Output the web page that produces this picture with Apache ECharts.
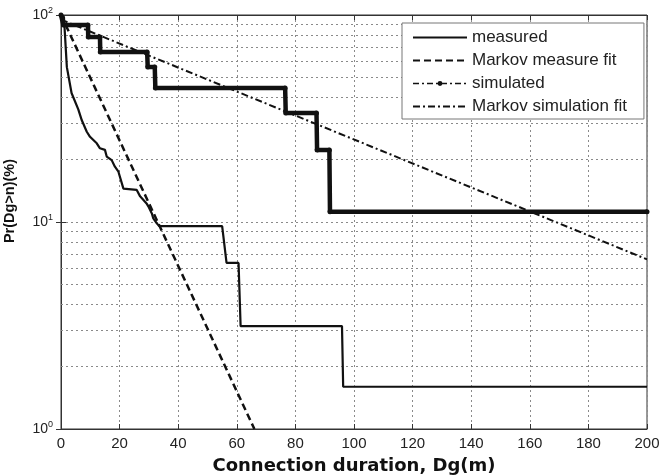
<!DOCTYPE html>
<html>
<head>
<meta charset="utf-8">
<script src="https://cdn.jsdelivr.net/npm/echarts@6/dist/echarts.min.js"></script>
<style>
  html, body { margin: 0; padding: 0; background: #fff; }
  #chart { width: 659px; height: 475px; }
</style>
</head>
<body>
<div id="chart"></div>
<script>
// n (minutes) vs Pr(Dg>n) in %
const measured = [
  [0, 100], [1, 98], [2, 56], [3.6, 42], [5.9, 35], [7.1, 31], [8.8, 27.3], [9.9, 25.8],
  [12.2, 24], [13.3, 22.7], [15, 22.3], [15.6, 20.7], [17.3, 19.9], [18.4, 18.5],
  [19.6, 17.5], [20.1, 17.2], [21.3, 14.5], [25.8, 14.3], [27, 13.3], [29.2, 12.3],
  [29.8, 11.9], [31, 11], [31.5, 10.4], [32.7, 9.85], [33.5, 9.56], [55, 9.56],
  [56.5, 6.34], [60.6, 6.34], [61.3, 3.14], [95.9, 3.14], [96.3, 1.6], [200, 1.6]
]
const markovMeasureFit = [[0, 100], [66, 1]]
const simulated = [
  [0, 100], [0.8, 89.5], [9.2, 89.5], [9.3, 78.3], [13.3, 78.3], [13.4, 66.3], [29.4, 66.3],
  [29.6, 56.1], [32, 56.1], [32.2, 44.4], [76.5, 44.4], [76.7, 33.6], [87.2, 33.6],
  [87.4, 22.3], [91.6, 22.3], [91.8, 11.2], [200, 11.2]
]
const markovSimulationFit = [[0, 95], [200, 6.6]]

const seriesNames = ['measured', 'Markov measure fit', 'simulated', 'Markov simulation fit']
const yMinorGrid = [2, 3, 4, 5, 6, 7, 8, 9, 20, 30, 40, 50, 60, 70, 80, 90]

const gridDot = { color: '#8a8a8a', type: [2, 3], width: 1 }
const noDot = { color: 'rgba(0,0,0,0)', borderWidth: 0 }

const chart = echarts.init(document.getElementById('chart'))

chart.setOption({
  backgroundColor: '#fff',
  animation: false,
  grid: {
    left: 61, right: 12, top: 15, bottom: 46,
    outerBoundsMode: 'none', containLabel: false,
    show: true, borderColor: '#333', borderWidth: 1,
  },
  legend: {
    orient: 'vertical',
    left: 402,
    top: 23,
    padding: [6, 17, 4, 10],
    itemGap: 6,
    itemWidth: 54,
    itemHeight: 6,
    backgroundColor: '#fff',
    borderColor: '#777',
    borderWidth: 1,
    borderRadius: 0,
    textStyle: { fontFamily: 'Liberation Sans', fontSize: 17, color: '#222' },
    data: [
      { name: seriesNames[0], itemStyle: noDot },
      { name: seriesNames[1], itemStyle: noDot },
      { name: seriesNames[2], lineStyle: { type: [6, 3, 2, 3], width: 1.5 } },
      { name: seriesNames[3], itemStyle: noDot },
    ],
  },
  xAxis: [
    {
      type: 'value',
      min: 0,
      max: 200,
      interval: 20,
      name: 'Connection duration, Dg(m)',
      nameLocation: 'middle',
      nameGap: 28,
      nameTextStyle: { fontFamily: 'DejaVu Sans', fontWeight: 'bold', fontSize: 18, color: '#111' },
      axisLine: { lineStyle: { color: '#333' } },
      axisTick: { inside: true, length: 5, lineStyle: { color: '#333' } },
      axisLabel: { fontFamily: 'Liberation Sans', fontSize: 15, color: '#222', margin: 7 },
      splitLine: { show: true, lineStyle: gridDot },
    },
    {
      type: 'value', position: 'top', min: 0, max: 200, interval: 20,
      axisLine: { lineStyle: { color: '#333' } },
      axisTick: { inside: true, length: 5, lineStyle: { color: '#333' } },
      axisLabel: { show: false }, splitLine: { show: false },
    },
  ],
  yAxis: [
    {
      type: 'log',
      logBase: 10,
      min: 1,
      max: 100,
      name: 'Pr(Dg>n)(%)',
      nameLocation: 'middle',
      nameGap: 44,
      nameTextStyle: {
        fontFamily: 'Liberation Sans', fontWeight: 'bold', fontSize: 14.5, color: '#111',
        padding: [0, 0, 0, 42],
      },
      axisLine: { show: true, lineStyle: { color: '#333' } },
      axisTick: { inside: true, length: 5, lineStyle: { color: '#333' } },
      axisLabel: {
        margin: 8,
        formatter: v => '{b|10}{s|' + Math.round(Math.log10(v)) + '}',
        rich: {
          b: { fontFamily: 'Liberation Sans', fontSize: 14, color: '#222', lineHeight: 18 },
          s: { fontFamily: 'Liberation Sans', fontSize: 9, color: '#222', verticalAlign: 'top', lineHeight: 10 },
        },
      },
      splitLine: { show: true, lineStyle: gridDot },
    },
    {
      type: 'log', logBase: 10, min: 1, max: 100, position: 'right',
      axisLine: { show: true, lineStyle: { color: '#333' } },
      axisTick: { inside: true, length: 5, lineStyle: { color: '#333' } },
      axisLabel: { show: false }, splitLine: { show: false },
    },
  ],
  series: [
    {
      name: seriesNames[0],
      type: 'line',
      data: measured,
      symbol: 'none',
      lineStyle: { color: '#111', width: 2.2 },
      itemStyle: { color: '#111' },
      z: 4,
      markLine: {
        silent: true,
        symbol: 'none',
        label: { show: false },
        lineStyle: gridDot,
        data: yMinorGrid.map(v => ({ yAxis: v })),
        z: 1,
      },
    },
    {
      name: seriesNames[1],
      type: 'line',
      data: markovMeasureFit,
      symbol: 'none',
      lineStyle: { color: '#111', width: 2.5, type: [7, 4] },
      itemStyle: { color: '#111' },
      z: 3,
    },
    {
      name: seriesNames[2],
      type: 'line',
      data: simulated,
      symbol: 'circle',
      symbolSize: 5,
      lineStyle: { color: '#111', width: 4.5 },
      itemStyle: { color: '#111' },
      z: 5,
    },
    {
      name: seriesNames[3],
      type: 'line',
      data: markovSimulationFit,
      symbol: 'none',
      lineStyle: { color: '#111', width: 2, type: [7, 3, 2, 3] },
      itemStyle: { color: '#111' },
      z: 3,
    },
  ],
})
</script>
</body>
</html>
